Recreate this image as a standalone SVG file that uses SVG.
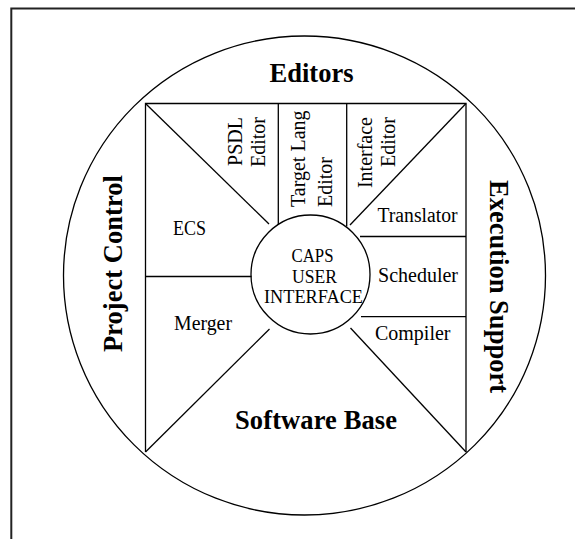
<svg xmlns="http://www.w3.org/2000/svg" width="575" height="539" viewBox="0 0 575 539">
<style>
.ln{stroke:#000;stroke-width:1.3;fill:none}
.h{font-family:"Liberation Serif","Times New Roman",serif;font-size:26.5px;font-weight:bold;fill:#000}
.t{font-family:"Liberation Serif","Times New Roman",serif;font-size:20px;fill:#000}
.c{font-family:"Liberation Serif","Times New Roman",serif;font-size:18px;fill:#000;text-anchor:middle}
</style>
<rect width="575" height="539" fill="#fff"/>
<g id="frame"><path d="M11.3,539 V8.5 H575" stroke="#222" stroke-width="2" fill="none"/></g>
<g id="outer-ring"><ellipse cx="304.5" cy="275.5" rx="241" ry="239.5" class="ln"/></g>
<g id="connectors">
<path d="M145.5,452 V103.5 H466 V452" class="ln"/>
<line x1="145.5" y1="103.5" x2="269" y2="224" class="ln"/>
<line x1="466" y1="103.5" x2="350" y2="225" class="ln"/>
<line x1="278.3" y1="103.5" x2="278.3" y2="225" class="ln"/>
<line x1="346.7" y1="103.5" x2="346.7" y2="226.5" class="ln"/>
<line x1="145.5" y1="276.5" x2="251.5" y2="276.5" class="ln"/>
<line x1="360" y1="236.5" x2="466" y2="236.5" class="ln"/>
<line x1="361" y1="316.7" x2="466" y2="316.7" class="ln"/>
<line x1="269.5" y1="329" x2="145.5" y2="452" class="ln"/>
<line x1="350.5" y1="328" x2="466" y2="452" class="ln"/>
</g>
<g id="caps-ui">
<circle cx="310.5" cy="274.5" r="59.5" class="ln"/>
<text class="c" x="312.5" y="262" textLength="42" lengthAdjust="spacingAndGlyphs">CAPS</text>
<text class="c" x="314.5" y="282.5" textLength="45" lengthAdjust="spacingAndGlyphs">USER</text>
<text class="c" x="313.5" y="303" textLength="99" lengthAdjust="spacingAndGlyphs">INTERFACE</text>
</g>
<g id="editors"><text class="h" x="311.5" y="82" text-anchor="middle" textLength="84" lengthAdjust="spacing">Editors</text></g>
<g id="project-control"><text class="h" transform="translate(122,352) rotate(-90)" textLength="177" lengthAdjust="spacing">Project Control</text></g>
<g id="execution-support"><text class="h" transform="translate(490,180) rotate(90)" textLength="213" lengthAdjust="spacing">Execution Support</text></g>
<g id="software-base"><text class="h" x="235" y="429" textLength="162" lengthAdjust="spacing">Software Base</text></g>
<g id="psdl-editor">
<text class="t" transform="translate(242,117) rotate(-90)" text-anchor="end">PSDL</text>
<text class="t" transform="translate(265,117) rotate(-90)" text-anchor="end">Editor</text>
</g>
<g id="target-lang-editor">
<text class="t" transform="translate(305,207) rotate(-90)">Target Lang</text>
<text class="t" transform="translate(331.5,207) rotate(-90)">Editor</text>
</g>
<g id="interface-editor">
<text class="t" transform="translate(371.5,117) rotate(-90)" text-anchor="end">Interface</text>
<text class="t" transform="translate(395,117) rotate(-90)" text-anchor="end">Editor</text>
</g>
<g id="ecs"><text class="t" x="173" y="235" textLength="33" lengthAdjust="spacingAndGlyphs">ECS</text></g>
<g id="merger"><text class="t" x="174" y="330" textLength="58" lengthAdjust="spacingAndGlyphs">Merger</text></g>
<g id="translator"><text class="t" x="377.5" y="222" textLength="80" lengthAdjust="spacingAndGlyphs">Translator</text></g>
<g id="scheduler"><text class="t" x="378" y="282" textLength="80" lengthAdjust="spacingAndGlyphs">Scheduler</text></g>
<g id="compiler"><text class="t" x="375" y="340" textLength="75.5" lengthAdjust="spacingAndGlyphs">Compiler</text></g>
</svg>
